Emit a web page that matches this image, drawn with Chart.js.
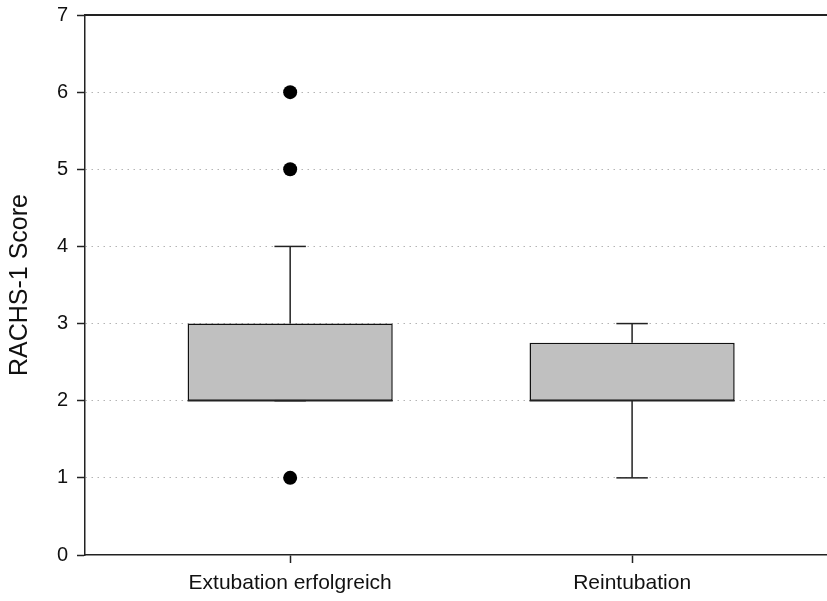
<!DOCTYPE html>
<html lang="de">
<head>
<meta charset="UTF-8">
<title>RACHS-1 Score</title>
<style>
  html, body { margin: 0; padding: 0; background: #fff; }
  #wrap { width: 827px; height: 601px; }
</style>
</head>
<body>
<div id="wrap"><canvas id="myChart" width="827" height="601"></canvas></div>
<script src="https://cdn.jsdelivr.net/npm/chart.js"></script>
<script>
  // box plot values
  const groups = ['Extubation erfolgreich', 'Reintubation'];
  const whiskerLow = [2, 1];
  const q1 = [2, 2];
  const median = [2, 2];
  const q3 = [3, 2.75];
  const whiskerHigh = [4, 3];
  const outliers = [[1, 5, 6], []];
  const yTicks = [0, 1, 2, 3, 4, 5, 6, 7];

  const boxHalf = 0.3;   // half box width in x units
  const capHalf = 0.046; // half whisker cap width

  const font = 'Liberation Sans, Arial, sans-serif';
  const ink = '#222';

  // no extra label padding round the plot area
  const noPad = s => { s.paddingTop = 0; s.paddingBottom = 0; s.paddingLeft = 0; s.paddingRight = 0; };

  // whiskers, caps, medians as little line segments
  const segs = [];
  groups.forEach((g, i) => {
    const x = i + 1;
    segs.push([{x: x, y: q3[i]}, {x: x, y: whiskerHigh[i]}]);
    segs.push([{x: x, y: whiskerLow[i]}, {x: x, y: q1[i]}]);
    segs.push([{x: x - capHalf, y: whiskerHigh[i]}, {x: x + capHalf, y: whiskerHigh[i]}]);
    segs.push([{x: x - capHalf, y: whiskerLow[i]}, {x: x + capHalf, y: whiskerLow[i]}]);
    segs.push([{x: x - boxHalf, y: median[i]}, {x: x + boxHalf, y: median[i]}]);
  });

  const lineSets = segs.map(s => ({
    type: 'line',
    data: s,
    borderColor: ink,
    borderWidth: 1.5,
    pointRadius: 0,
    fill: false,
    order: 1
  }));

  const outlierPts = outliers.flatMap((vals, i) => vals.map(v => ({x: i + 1, y: v})));

  new Chart(document.getElementById('myChart'), {
    type: 'scatter',
    data: {
      datasets: [
        {
          type: 'bar',
          data: groups.map((g, i) => ({x: i + 1, y: [q1[i], q3[i]]})),
          backgroundColor: '#c0c0c0',
          borderColor: '#111',
          borderWidth: 1.5,
          borderSkipped: false,
          categoryPercentage: 1,
          barPercentage: boxHalf * 2,
          order: 2
        },
        ...lineSets,
        {
          type: 'scatter',
          data: outlierPts,
          pointRadius: 7,
          pointBackgroundColor: '#000',
          pointBorderWidth: 0,
          order: 0
        }
      ]
    },
    options: {
      responsive: false,
      animation: false,
      devicePixelRatio: 1,
      layout: { autoPadding: false, padding: { top: 15, right: 0, left: 0, bottom: 0 } },
      plugins: { legend: { display: false }, tooltip: { enabled: false } },
      scales: {
        x: {
          type: 'linear',
          position: 'bottom',
          min: 0.4,
          max: 2.57,
          offset: false,
          afterBuildTicks: axis => { axis.ticks = groups.map((g, i) => ({value: i + 1})); },
          afterFit: s => { s.height = 46; noPad(s); },
          ticks: {
            font: { family: font, size: 21 },
            color: '#111',
            padding: 8,
            maxRotation: 0,
            callback: v => groups[v - 1]
          },
          grid: { drawOnChartArea: false, tickLength: 8, tickColor: ink, tickWidth: 1.5, offset: false },
          border: { color: ink, width: 1.5 }
        },
        xTop: {
          type: 'linear',
          position: 'top',
          min: 0.4,
          max: 2.57,
          ticks: { display: false },
          grid: { display: false },
          afterFit: s => { s.height = 0; noPad(s); },
          border: { color: ink, width: 2 }
        },
        y: {
          min: 0,
          max: 7,
          afterBuildTicks: axis => { axis.ticks = yTicks.map(v => ({value: v})); },
          afterFit: s => { s.width = 85; noPad(s); },
          ticks: {
            font: { family: font, size: 20 },
            color: '#111',
            padding: 9
          },
          grid: {
            color: c => (c.tick && (c.tick.value === 0 || c.tick.value === 7)) ? 'rgba(0,0,0,0)' : '#b4b4b4',
            lineWidth: 1,
            tickLength: 8,
            tickColor: ink,
            tickWidth: 1.5
          },
          border: { color: ink, width: 1.5, dash: [1.5, 4.5] },
          title: {
            display: true,
            text: 'RACHS-1 Score',
            font: { family: font, size: 25 },
            color: '#111',
            padding: { top: 5, bottom: 0 }
          }
        }
      }
    }
  });
</script>
</body>
</html>
